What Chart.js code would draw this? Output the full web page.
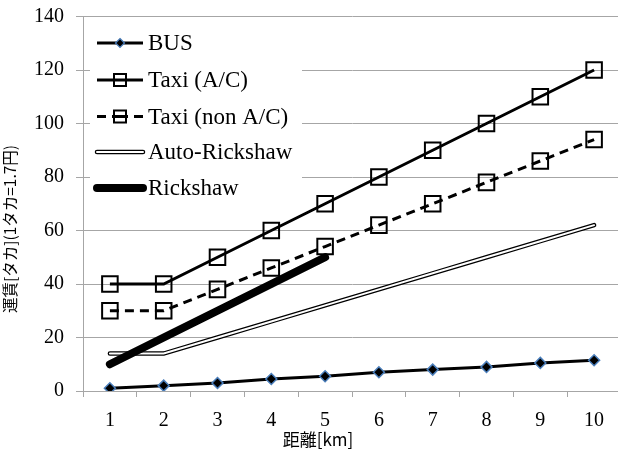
<!DOCTYPE html>
<html>
<head>
<meta charset="utf-8">
<script src="https://cdn.jsdelivr.net/npm/chart.js@4/dist/chart.umd.min.js"></script>
<style>
  html, body { margin: 0; padding: 0; background: #fff; overflow: hidden; }
  #wrap { width: 634px; height: 464px; position: relative; }
</style>
</head>
<body>
<div id="wrap"><canvas id="c" width="634" height="464"></canvas></div>
<script>
// Fare by distance (km)
const distances = ['1', '2', '3', '4', '5', '6', '7', '8', '9', '10'];
const busFare = [1, 2, 3, 4.5, 5.5, 7, 8, 9, 10.5, 11.5];
const taxiAC = [40, 40, 50, 60, 70, 80, 90, 100, 110, 120];
const taxiNonAC = [30, 30, 38, 46, 54, 62, 70, 78, 86, 94];
const autoRickshaw = [14, 14, 20, 26, 32, 38, 44, 50, 56, 62];
const rickshaw = [10, 20, 30, 40, 50];
const seriesNames = ['BUS', 'Taxi (A/C)', 'Taxi (non A/C)', 'Auto-Rickshaw', 'Rickshaw'];
const yTitle = '運賃[タカ](1タカ=1.7円)';
const xTitle = '距離[km]';

const GRID = '#a6a6a6';
const SERIF = '"Liberation Serif", "Times New Roman", serif';
const CJK = '"Noto Sans CJK JP", "Noto Sans", sans-serif';
const BUS_EDGE = '#4a7ebb';

// Legend box drawn inside the plot, top-left
const legendPlugin = {
  id: 'boxLegend',
  afterDraw(chart) {
    const ctx = chart.ctx;
    const x0 = 97, x1 = 143, tx = 148;
    const ys = [43, 80, 116.5, 152, 188];
    ctx.save();
    ctx.fillStyle = '#fff';
    ctx.fillRect(90, 24, 212, 182);
    ys.forEach((y, i) => {
      ctx.save();
      ctx.strokeStyle = '#000';
      ctx.lineCap = 'butt';
      if (i === 0 || i === 1) {
        ctx.lineWidth = 3;
        ctx.beginPath(); ctx.moveTo(x0, y); ctx.lineTo(x1, y); ctx.stroke();
      } else if (i === 2) {
        ctx.lineWidth = 3;
        ctx.beginPath(); ctx.moveTo(x0, y); ctx.lineTo(106, y); ctx.stroke();
        ctx.beginPath(); ctx.moveTo(134, y); ctx.lineTo(x1, y); ctx.stroke();
        ctx.beginPath(); ctx.moveTo(112, y); ctx.lineTo(128, y); ctx.stroke();
      } else if (i === 3) {
        ctx.lineCap = 'round';
        ctx.lineWidth = 4.5;
        ctx.beginPath(); ctx.moveTo(x0, y); ctx.lineTo(x1, y); ctx.stroke();
        ctx.strokeStyle = '#fff';
        ctx.lineWidth = 2;
        ctx.beginPath(); ctx.moveTo(x0, y); ctx.lineTo(x1, y); ctx.stroke();
      } else {
        ctx.lineCap = 'round';
        ctx.lineWidth = 8;
        ctx.beginPath(); ctx.moveTo(x0, y); ctx.lineTo(x1, y); ctx.stroke();
      }
      ctx.restore();
      const cx = (x0 + x1) / 2;
      if (i === 0) {
        ctx.save();
        ctx.fillStyle = '#000'; ctx.strokeStyle = BUS_EDGE; ctx.lineWidth = 1.2;
        ctx.beginPath();
        ctx.moveTo(cx, y - 4.5); ctx.lineTo(cx + 4.5, y); ctx.lineTo(cx, y + 4.5); ctx.lineTo(cx - 4.5, y);
        ctx.closePath(); ctx.fill(); ctx.stroke();
        ctx.restore();
      } else if (i === 1 || i === 2) {
        ctx.save();
        ctx.strokeStyle = '#000'; ctx.lineWidth = 2;
        ctx.strokeRect(cx - 6, y - 6, 12, 12);
        ctx.restore();
      }
      ctx.fillStyle = '#000';
      ctx.font = '23px ' + SERIF;
      ctx.textBaseline = 'middle';
      ctx.textAlign = 'left';
      ctx.fillText(seriesNames[i], tx, y + 1);
    });
    ctx.restore();
  }
};

// Axis titles
const titlePlugin = {
  id: 'axisTitles',
  afterDraw(chart) {
    const ctx = chart.ctx;
    ctx.save();
    ctx.fillStyle = '#000';
    ctx.textAlign = 'center';
    ctx.textBaseline = 'middle';
    ctx.font = '17px ' + CJK;
    ctx.fillText(xTitle, 318, 440);
    ctx.translate(10, 229);
    ctx.rotate(-Math.PI / 2);
    ctx.font = '15.5px ' + CJK;
    ctx.fillText(yTitle, 0, 0);
    ctx.restore();
  }
};

new Chart(document.getElementById('c'), {
  type: 'line',
  data: {
    labels: distances,
    datasets: [
      {
        label: seriesNames[0], data: busFare, order: 5,
        borderColor: '#000', borderWidth: 3,
        pointStyle: 'rectRot', pointRadius: 5.5,
        pointBackgroundColor: '#000', pointBorderColor: BUS_EDGE, pointBorderWidth: 1.5
      },
      {
        label: seriesNames[1], data: taxiAC, order: 4,
        borderColor: '#000', borderWidth: 3,
        pointStyle: 'rect', pointRadius: 11,
        pointBackgroundColor: 'rgba(0,0,0,0)', pointBorderColor: '#000', pointBorderWidth: 2
      },
      {
        label: seriesNames[2], data: taxiNonAC, order: 3,
        borderColor: '#000', borderWidth: 3, borderDash: [9, 6],
        pointStyle: 'rect', pointRadius: 11,
        pointBackgroundColor: 'rgba(0,0,0,0)', pointBorderColor: '#000', pointBorderWidth: 2
      },
      {
        label: seriesNames[3], data: autoRickshaw, order: 2.2,
        borderColor: '#000', borderWidth: 4.5, borderCapStyle: 'round', pointRadius: 0
      },
      {
        label: seriesNames[3] + ' inner', data: autoRickshaw, order: 2.1,
        borderColor: '#fff', borderWidth: 2, borderCapStyle: 'round', pointRadius: 0
      },
      {
        label: seriesNames[4], data: rickshaw, order: 1,
        borderColor: '#000', borderWidth: 8, borderCapStyle: 'round', pointRadius: 0
      }
    ]
  },
  options: {
    responsive: false,
    animation: false,
    devicePixelRatio: 1,
    layout: { padding: { top: 16.5, right: 4, bottom: 0, left: 0 } },
    elements: { line: { tension: 0 } },
    plugins: { legend: { display: false }, tooltip: { enabled: false } },
    scales: {
      x: {
        type: 'category',
        offset: true,
        grid: { offset: true, drawOnChartArea: false, drawTicks: true, tickLength: 6, color: GRID, lineWidth: 1 },
        border: { color: GRID, width: 1 },
        ticks: { color: '#000', font: { family: SERIF, size: 20 }, padding: 12, maxRotation: 0 },
        afterFit(s) { s.height = 73; s.paddingLeft = 0; s.paddingRight = 0; }
      },
      y: {
        min: 0, max: 140,
        grid: { color: GRID, lineWidth: 1, drawTicks: true, tickLength: 7 },
        border: { color: GRID, width: 1 },
        ticks: { stepSize: 20, color: '#000', font: { family: SERIF, size: 20 }, padding: 12 },
        afterFit(s) { s.width = 83; s.paddingTop = 0; s.paddingBottom = 0; }
      }
    }
  },
  plugins: [legendPlugin, titlePlugin]
});
</script>
</body>
</html>
